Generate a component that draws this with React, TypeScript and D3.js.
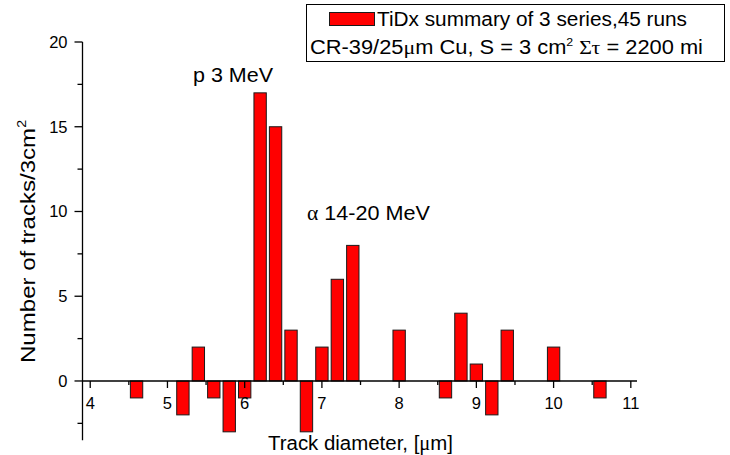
import React from "react";
import * as d3 from "d3";

const diameters = [4.6, 5.2, 5.4, 5.6, 5.8, 6.0, 6.2, 6.4, 6.6, 6.8, 7.0, 7.2, 7.4, 8.0, 8.6, 8.8, 9.0, 9.2, 9.4, 10.0, 10.6];
const counts = [-1, -2, 2, -1, -3, -1, 17, 15, 3, -3, 2, 6, 8, 3, -1, 4, 1, -2, 3, 2, -1];
const xMajorTicks = [4, 5, 6, 7, 8, 9, 10, 11];
const xMinorTicks = [4.5, 5.5, 6.5, 7.5, 8.5, 9.5, 10.5];
const yMajorTicks = [0, 5, 10, 15, 20];
const yMinorTicks = [-2.5, 2.5, 7.5, 12.5, 17.5];
const legendLine1 = "TiDx summary of 3 series,45 runs";

const W = 730;
const H = 455;
const FONT = "'Liberation Sans', Arial, Helvetica, sans-serif";
const GREEK = "'Liberation Serif', 'Times New Roman', serif";

export default function App() {
  const x = d3.scaleLinear().domain([3.9, 11.08]).range([82.5, 637]);
  const y = d3.scaleLinear().domain([-3.5, 20]).range([440.3, 42]);
  const barW = x(4.16) - x(4);
  const axisX = x(3.9);
  const axisY = y(0);

  return (
    <svg width={W} height={H} style={{ position: "absolute", left: 0, top: 0, background: "#fff" }} fontFamily={FONT}>
      <rect x={0} y={0} width={W} height={H} fill="#fff" />
      {/* bars */}
      {diameters.map((d, i) => {
        const v = counts[i];
        const y0 = y(Math.max(0, v));
        const y1 = y(Math.min(0, v));
        return (
          <rect key={i} x={x(d) - barW / 2} y={y0} width={barW} height={y1 - y0}
            fill="#ff0000" stroke="#1a1a1a" strokeWidth={1} />
        );
      })}
      {/* y axis */}
      <line x1={axisX} x2={axisX} y1={y(20)} y2={y(-3.5)} stroke="#000" strokeWidth={1.3} />
      {yMajorTicks.map(t => (
        <g key={"ym" + t}>
          <line x1={axisX - 8} x2={axisX} y1={y(t)} y2={y(t)} stroke="#000" strokeWidth={1.3} />
          <text x={axisX - 15} y={y(t)} dy="0.35em" textAnchor="end" fontSize={16.5}>{t}</text>
        </g>
      ))}
      {yMinorTicks.map(t => (
        <line key={"yn" + t} x1={axisX - 5} x2={axisX} y1={y(t)} y2={y(t)} stroke="#000" strokeWidth={1.3} />
      ))}
      {/* x axis */}
      <line x1={axisX} x2={x(11.08)} y1={axisY} y2={axisY} stroke="#000" strokeWidth={1.3} />
      {xMajorTicks.map(t => (
        <g key={"xm" + t}>
          <line x1={x(t)} x2={x(t)} y1={axisY} y2={axisY + 7} stroke="#000" strokeWidth={1.3} />
          <text x={x(t)} y={408.5} textAnchor="middle" fontSize={16.5}>{t}</text>
        </g>
      ))}
      {xMinorTicks.map(t => (
        <line key={"xn" + t} x1={x(t)} x2={x(t)} y1={axisY} y2={axisY + 4} stroke="#000" strokeWidth={1.3} />
      ))}
      {/* axis titles */}
      <text x={268} y={450} fontSize={20} textLength={185} lengthAdjust="spacingAndGlyphs">
        Track diameter, [<tspan fontFamily={GREEK}>μ</tspan>m]
      </text>
      <text transform="translate(35,241.5) rotate(-90)" textAnchor="middle" fontSize={20.5}
        textLength={243} lengthAdjust="spacingAndGlyphs">
        Number of tracks/3cm<tspan dy={-9} fontSize={12}>2</tspan>
      </text>
      {/* annotations */}
      <text x={193} y={82} fontSize={20} textLength={80} lengthAdjust="spacingAndGlyphs">p 3 MeV</text>
      <text x={307} y={220} fontSize={20} textLength={123} lengthAdjust="spacingAndGlyphs">
        <tspan fontFamily={GREEK}>α</tspan> 14-20 MeV
      </text>
      {/* legend */}
      <rect x={306.5} y={4.5} width={418} height={57} fill="#fff" stroke="#000" strokeWidth={1} />
      <rect x={329.5} y={12.5} width={45} height={13} fill="#ff0000" stroke="#1a1a1a" strokeWidth={1} />
      <text x={377} y={26} fontSize={19.5} textLength={310} lengthAdjust="spacingAndGlyphs">{legendLine1}</text>
      <text x={310} y={54} fontSize={19.5} textLength={393} lengthAdjust="spacingAndGlyphs">
        CR-39/25<tspan fontFamily={GREEK}>μ</tspan>m Cu, S = 3 cm<tspan dy={-8} fontSize={11}>2</tspan>
        <tspan dy={8}> </tspan><tspan fontFamily={GREEK}>Στ</tspan> = 2200 mi
      </text>
    </svg>
  );
}
